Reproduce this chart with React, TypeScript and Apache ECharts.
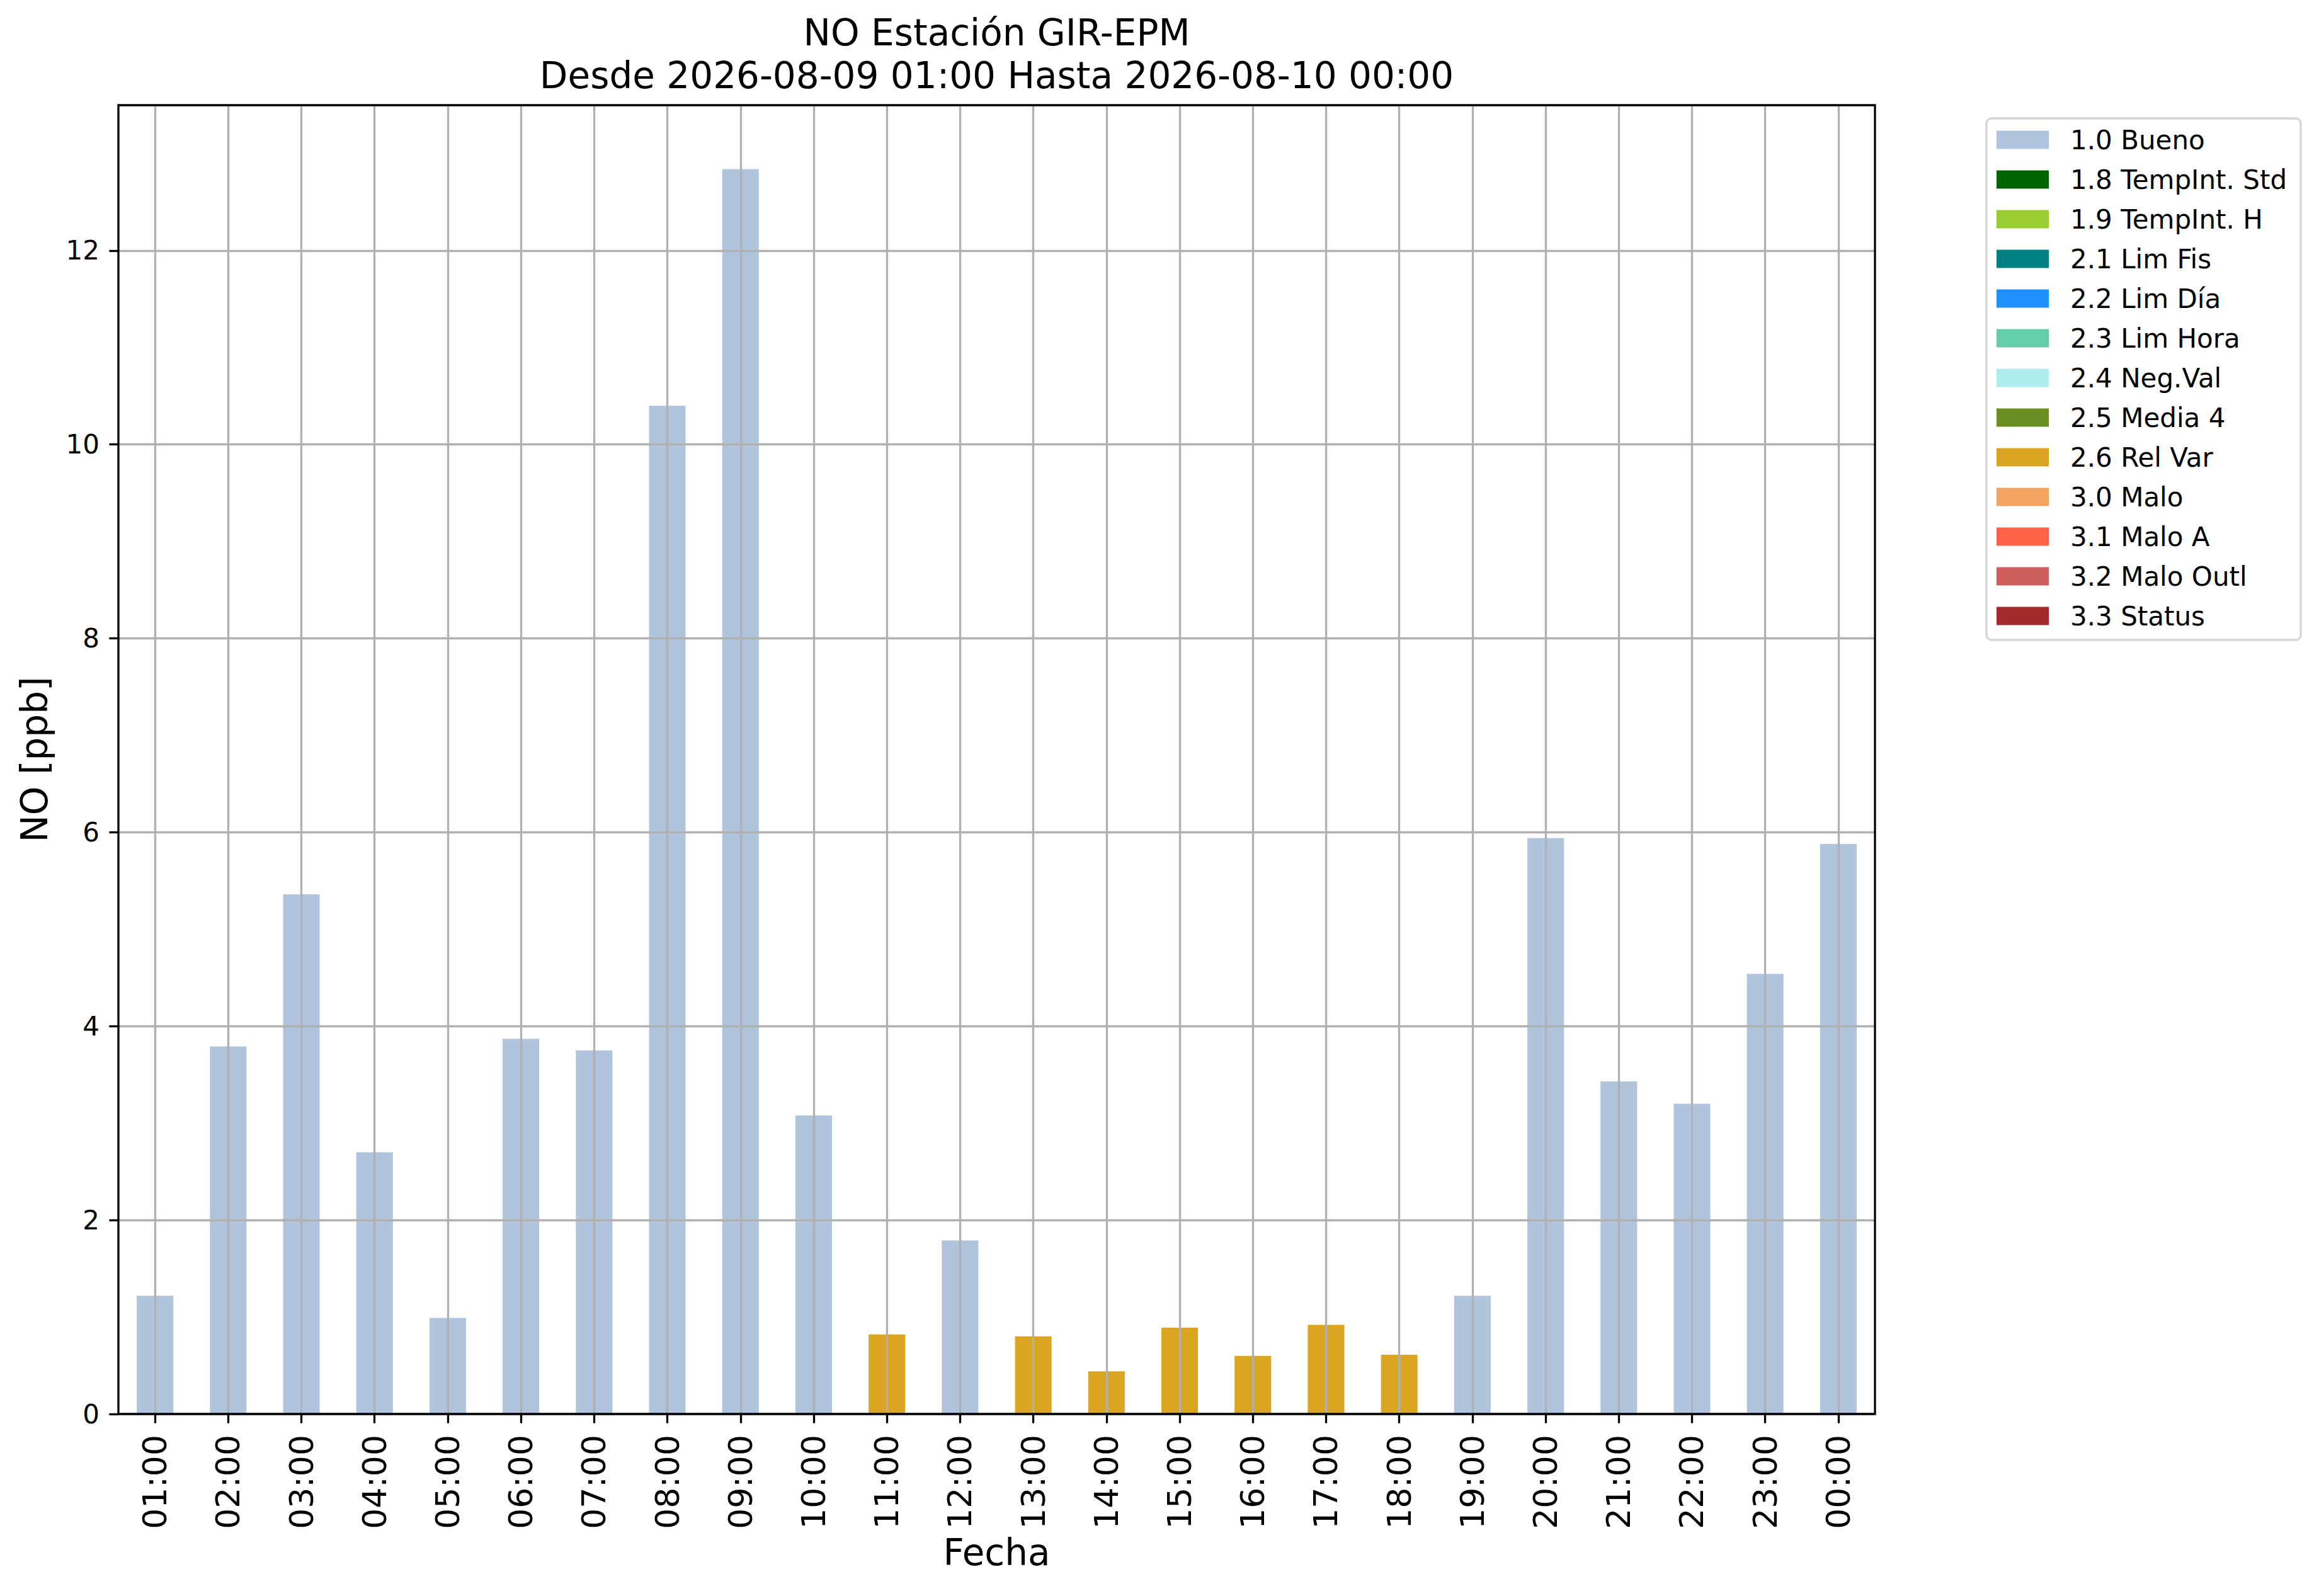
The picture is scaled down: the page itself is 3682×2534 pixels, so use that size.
import React, { useEffect, useRef } from "react";
import * as echarts from "echarts";

const hours = [
  "01:00", "02:00", "03:00", "04:00", "05:00", "06:00", "07:00", "08:00",
  "09:00", "10:00", "11:00", "12:00", "13:00", "14:00", "15:00", "16:00",
  "17:00", "18:00", "19:00", "20:00", "21:00", "22:00", "23:00", "00:00",
];

const values = [
  1.22, 3.79, 5.36, 2.7, 0.99, 3.87, 3.75, 10.4,
  12.84, 3.08, 0.82, 1.79, 0.8, 0.44, 0.89, 0.6,
  0.92, 0.61, 1.22, 5.94, 3.43, 3.2, 4.54, 5.88,
];

const flags = [
  "1.0 Bueno", "1.0 Bueno", "1.0 Bueno", "1.0 Bueno", "1.0 Bueno", "1.0 Bueno",
  "1.0 Bueno", "1.0 Bueno", "1.0 Bueno", "1.0 Bueno", "2.6 Rel Var", "1.0 Bueno",
  "2.6 Rel Var", "2.6 Rel Var", "2.6 Rel Var", "2.6 Rel Var", "2.6 Rel Var", "2.6 Rel Var",
  "1.0 Bueno", "1.0 Bueno", "1.0 Bueno", "1.0 Bueno", "1.0 Bueno", "1.0 Bueno",
];

const flagNames = [
  "1.0 Bueno", "1.8 TempInt. Std", "1.9 TempInt. H", "2.1 Lim Fis", "2.2 Lim Día",
  "2.3 Lim Hora", "2.4 Neg.Val", "2.5 Media 4", "2.6 Rel Var", "3.0 Malo",
  "3.1 Malo A", "3.2 Malo Outl", "3.3 Status",
];

const flagColors = [
  "#B0C4DE", "#006400", "#9ACD32", "#008080", "#1E90FF",
  "#66CDAA", "#AFEEEE", "#6B8E23", "#DAA520", "#F4A460",
  "#FF6347", "#CD5C5C", "#A52A2A",
];

const yTicks = [0, 2, 4, 6, 8, 10, 12];

const titleText = "NO Estación GIR-EPM\nDesde 2026-08-09 01:00 Hasta 2026-08-10 00:00";
const xName = "Fecha";
const yName = "NO [ppb]";

const FONT = "DejaVu Sans";
const GRID = { left: 188, top: 167, width: 2789, height: 2078 };
const GRID_COLOR = "#b0b0b0";
const LW = 3.3;

export default function App() {
  const ref = useRef<HTMLDivElement>(null);

  useEffect(() => {
    document.body.style.margin = "0";
    if (!ref.current) return;
    const chart = echarts.init(ref.current, null, { renderer: "svg" });

    const series: any[] = flagNames.map((name, k) => {
      const s: any = {
        type: "bar",
        name,
        stack: "total",
        barWidth: "50%",
        itemStyle: { color: flagColors[k] },
        data: values.map((v, i) => (flags[i] === name ? v : null)),
      };
      if (k === 0) {
        s.markLine = {
          silent: true,
          symbol: ["none", "none"],
          label: { show: false },
          animation: false,
          lineStyle: { color: GRID_COLOR, width: LW, type: "solid" },
          emphasis: { disabled: true },
          data: hours.map((h) => ({ xAxis: h })),
        };
      }
      return s;
    });

    chart.setOption({
      animation: false,
      backgroundColor: "#ffffff",
      textStyle: { fontFamily: FONT },
      title: {
        text: titleText,
        left: GRID.left + GRID.width / 2,
        top: 18,
        textAlign: "center",
        padding: 0,
        textStyle: {
          fontFamily: FONT,
          fontSize: 58,
          fontWeight: "normal",
          color: "#000",
          lineHeight: 68,
        },
      },
      grid: { ...GRID, containLabel: false },
      legend: {
        orient: "vertical",
        left: 3154,
        top: 188,
        data: flagNames,
        icon: "rect",
        itemWidth: 83,
        itemHeight: 29,
        itemGap: 21,
        selectedMode: false,
        padding: [13, 22, 17, 16],
        borderColor: "#d6d6d6",
        borderWidth: LW,
        borderRadius: 8,
        backgroundColor: "#ffffff",
        textStyle: {
          fontFamily: FONT,
          fontSize: 42,
          color: "#000",
          padding: [0, 0, 0, 29],
        },
      },
      xAxis: {
        type: "category",
        data: hours,
        boundaryGap: true,
        z: 3,
        axisLine: { show: false },
        axisTick: {
          show: true,
          alignWithLabel: true,
          length: 14.6,
          lineStyle: { color: "#000", width: LW },
        },
        axisLabel: {
          interval: 0,
          rotate: 90,
          margin: 33,
          fontFamily: FONT,
          fontSize: 52,
          color: "#000",
        },
        splitLine: { show: false },
        name: xName,
        nameLocation: "middle",
        nameGap: 190,
        nameTextStyle: { fontFamily: FONT, fontSize: 58, color: "#000" },
      },
      yAxis: {
        type: "value",
        min: 0,
        max: 13.5,
        interval: 2,
        z: 3,
        axisLine: { show: false },
        axisTick: {
          show: true,
          length: 14.6,
          customValues: yTicks,
          lineStyle: { color: "#000", width: LW },
        },
        axisLabel: {
          margin: 30,
          customValues: yTicks,
          fontFamily: FONT,
          fontSize: 42,
          color: "#000",
        },
        splitLine: {
          show: true,
          lineStyle: { color: GRID_COLOR, width: LW },
        },
        name: yName,
        nameLocation: "middle",
        nameGap: 104,
        nameRotate: 90,
        nameTextStyle: { fontFamily: FONT, fontSize: 58, color: "#000" },
      },
      graphic: [
        {
          type: "rect",
          z: 100,
          silent: true,
          shape: { x: GRID.left, y: GRID.top, width: GRID.width, height: GRID.height },
          style: { fill: "none", stroke: "#000", lineWidth: LW },
        },
      ],
      series,
    });

    return () => chart.dispose();
  }, []);

  return <div ref={ref} style={{ width: 3682, height: 2534 }} />;
}
